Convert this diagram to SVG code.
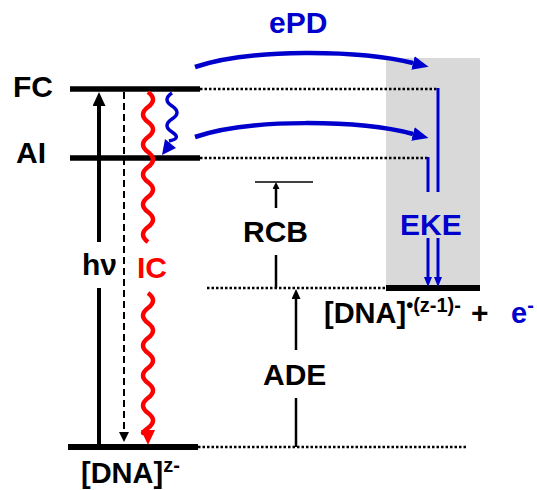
<svg xmlns="http://www.w3.org/2000/svg" width="537" height="490" viewBox="0 0 537 490">
<style>
text{font-family:"Liberation Sans",Arial,sans-serif;font-weight:bold;font-size:30px}
.blk{fill:#000}
.blu{fill:#0000cc}
.red{fill:#ff0000}
.lvl{stroke:#000;stroke-width:5.5;fill:none}
.dot{stroke:#000;stroke-width:2.5;stroke-dasharray:2.5 2;fill:none}
.bl{stroke:#0000cc;fill:none}
</style>
<defs>
<marker id="ahBig" markerUnits="userSpaceOnUse" markerWidth="14" markerHeight="13" refX="0" refY="6.5" orient="auto"><path d="M0,0L14,6.5L0,13z" fill="#000"/></marker>
<marker id="ahSmall" markerUnits="userSpaceOnUse" markerWidth="10" markerHeight="9" refX="0" refY="4.5" orient="auto"><path d="M0,0L10,4.5L0,9z" fill="#000"/></marker>
<marker id="ahTiny" markerUnits="userSpaceOnUse" markerWidth="7" markerHeight="7" refX="0" refY="3.5" orient="auto"><path d="M0,0L7,3.5L0,7z" fill="#000"/></marker>
<marker id="ahDash" markerUnits="userSpaceOnUse" markerWidth="10" markerHeight="10" refX="0" refY="5" orient="auto"><path d="M0,0L10,5L0,10z" fill="#000"/></marker>
<marker id="ahBlue" markerUnits="userSpaceOnUse" markerWidth="16" markerHeight="14" refX="0" refY="7" orient="auto"><path d="M0,0L16,7L0,14z" fill="#0000cc"/></marker>
<marker id="ahBlueS" markerUnits="userSpaceOnUse" markerWidth="10" markerHeight="8" refX="0" refY="4" orient="auto"><path d="M0,0L10,4L0,8z" fill="#0000cc"/></marker>
</defs>
<rect id="box" x="386" y="58" width="94" height="230" fill="#d9d9d9"/>
<g id="levels">
<g id="FC"><line class="lvl" x1="70" y1="89" x2="200" y2="89"/><text x="13" y="97" class="blk">FC</text></g>
<g id="AI"><line class="lvl" x1="70" y1="158" x2="200" y2="158"/><text x="16" y="163" class="blk">AI</text></g>
<g id="ground"><line class="lvl" x1="68" y1="447" x2="198" y2="447" style="stroke-width:6"/><text x="81" y="483" class="blk" style="font-size:29px">[DNA]<tspan dy="-11" style="font-size:20px">z-</tspan></text></g>
<g id="ion"><line class="lvl" x1="386" y1="288" x2="480" y2="288" style="stroke-width:6"/><text x="324" y="323" class="blk" style="font-size:29px">[DNA]<tspan dy="-11" style="font-size:20px">•(z-1)-</tspan><tspan x="471" y="323" style="font-size:30px">+</tspan><tspan x="511" class="blu">e</tspan><tspan dy="-11" class="blu" style="font-size:20px">-</tspan></text></g>
</g>
<g id="connectors">
<line class="dot" x1="200" y1="89" x2="438" y2="89"/>
<line class="dot" x1="200" y1="158" x2="428" y2="158"/>
<line class="dot" x1="207" y1="288" x2="386" y2="288"/>
<line class="dot" x1="198" y1="447" x2="468" y2="447"/>
<line x1="99" y1="447" x2="99" y2="288" stroke="#000" stroke-width="4"/>
<line x1="99" y1="242" x2="99" y2="106" stroke="#000" stroke-width="4" marker-end="url(#ahBig)"/>
<line x1="124" y1="92" x2="124" y2="432" stroke="#000" stroke-width="2" stroke-dasharray="7 4" marker-end="url(#ahDash)"/>
<path d="M148,92 q10,7.5 0,15 t0,15 t0,15 t0,15 t0,15 t0,15 t0,15 t0,15 t0,15 t0,15" stroke="#ff0000" stroke-width="4.5" fill="none"/>
<path d="M148,293 q10,7.5 0,15 t0,15 t0,15 t0,15 t0,15 t0,15 t0,15 t0,15 t0,15 t0,4" stroke="#ff0000" stroke-width="4.5" fill="none"/>
<path d="M148,445 L141,430 L155,430 Z" fill="#ff0000"/>
<path d="M172,93 q-10,6.5 0,13 t0,13 t0,13 t-3,9" class="bl" stroke-width="3.5"/>
<path d="M162,155 L165,139 L176,148 Z" fill="#0000cc"/>
<path d="M195,67 C250,48 360,50 413,63" class="bl" stroke-width="4.5" marker-end="url(#ahBlue)"/>
<path d="M195,137 C250,118 360,120 413,134" class="bl" stroke-width="4.5" marker-end="url(#ahBlue)"/>
<line x1="438" y1="88" x2="438" y2="192" class="bl" stroke-width="3"/>
<line x1="428" y1="157" x2="428" y2="192" class="bl" stroke-width="3"/>
<line x1="428" y1="238" x2="428" y2="277" class="bl" stroke-width="3" marker-end="url(#ahBlueS)"/>
<line x1="438" y1="238" x2="438" y2="277" class="bl" stroke-width="3" marker-end="url(#ahBlueS)"/>
<line x1="255" y1="182" x2="313" y2="182" stroke="#000" stroke-width="1.5"/>
<line x1="276" y1="208" x2="276" y2="189" stroke="#000" stroke-width="2.5" marker-end="url(#ahTiny)"/>
<line x1="276" y1="255" x2="276" y2="288" stroke="#000" stroke-width="2.5"/>
<line x1="296" y1="447" x2="296" y2="398" stroke="#000" stroke-width="2.5"/>
<line x1="296" y1="350" x2="296" y2="299" stroke="#000" stroke-width="2.5" marker-end="url(#ahSmall)"/>
</g>
<g id="labels">
<text x="82" y="275" class="blk">hν</text>
<text x="137" y="278" class="red">IC</text>
<text x="269" y="33" class="blu">ePD</text>
<text x="400" y="235" class="blu">EKE</text>
<text x="243" y="242" class="blk">RCB</text>
<text x="263" y="385" class="blk">ADE</text>
</g>
</svg>
